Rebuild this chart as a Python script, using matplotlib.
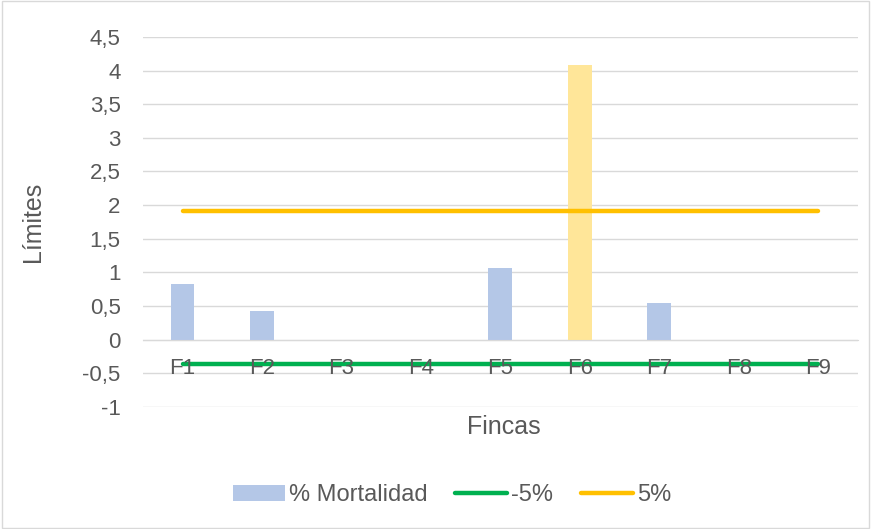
import matplotlib.pyplot as plt
from matplotlib.patches import Patch, Rectangle
from matplotlib.lines import Line2D

plt.rcParams['font.family'] = ['Liberation Sans', 'DejaVu Sans']

fincas = ['F1', 'F2', 'F3', 'F4', 'F5', 'F6', 'F7', 'F8', 'F9']
mortalidad = [0.83, 0.42, 0, 0, 1.06, 4.09, 0.55, 0, 0]
lim_inf = [-0.36] * 9
lim_sup = [1.91] * 9
yticks = [-1, -0.5, 0, 0.5, 1, 1.5, 2, 2.5, 3, 3.5, 4, 4.5]

txt = '#595959'
grid = '#D9D9D9'
blue = '#B4C7E7'
gold = '#FFE699'

fig = plt.figure(figsize=(8.71, 5.29), dpi=100)
ax = fig.add_axes([0.164, 0.2306, 0.821, 0.6994])
fig.patches.append(Rectangle((0.002, 0.002), 0.996, 0.996, transform=fig.transFigure,
                             fill=False, edgecolor=grid, linewidth=1))

x = list(range(len(fincas)))
colors = [gold if f == 'F6' else blue for f in fincas]
ax.bar(x, mortalidad, width=0.3, color=colors, zorder=2)
ax.plot(x, lim_inf, color='#00B050', linewidth=3.2, solid_capstyle='round', zorder=3)
ax.plot(x, lim_sup, color='#FFC000', linewidth=3.2, solid_capstyle='round', zorder=3)

ax.set_xlim(-0.5, len(fincas) - 0.5)
ax.set_ylim(-1.003, 4.5)
ax.set_yticks(yticks)
ax.set_yticklabels([str(v).replace('.', ',') if v % 1 else str(int(v)) for v in yticks])
ax.set_xticks(x)
ax.set_xticklabels(fincas)
ax.grid(axis='y', color=grid, linewidth=1, zorder=0)
ax.set_axisbelow(True)
# category labels sit on top of the -5% line, like in the original
ax.xaxis.set_zorder(4)

for s in ['top', 'left', 'right']:
    ax.spines[s].set_visible(False)
ax.spines['bottom'].set_position(('data', 0))
ax.spines['bottom'].set_color(grid)
ax.tick_params(axis='both', length=0, labelsize=16, colors=txt)
ax.tick_params(axis='x', pad=13)
ax.tick_params(axis='y', pad=16)

ax.set_ylabel('Límites', fontsize=18, color=txt)
ax.yaxis.set_label_coords(-0.137, 0.5)
fig.text(0.578, 0.192, 'Fincas', fontsize=18, color=txt, ha='center', va='center')

handles = [Patch(facecolor=blue),
           Line2D([], [], color='#00B050', linewidth=3.2, solid_capstyle='round'),
           Line2D([], [], color='#FFC000', linewidth=3.2, solid_capstyle='round')]
fig.legend(handles, ['% Mortalidad', '-5%', '5%'], loc='center', bbox_to_anchor=(0.519, 0.064),
           ncol=3, frameon=False, fontsize=17, labelcolor=txt, handlelength=2.2,
           handletextpad=0.15, columnspacing=1.2)

fig.savefig('out.png', dpi=100)
